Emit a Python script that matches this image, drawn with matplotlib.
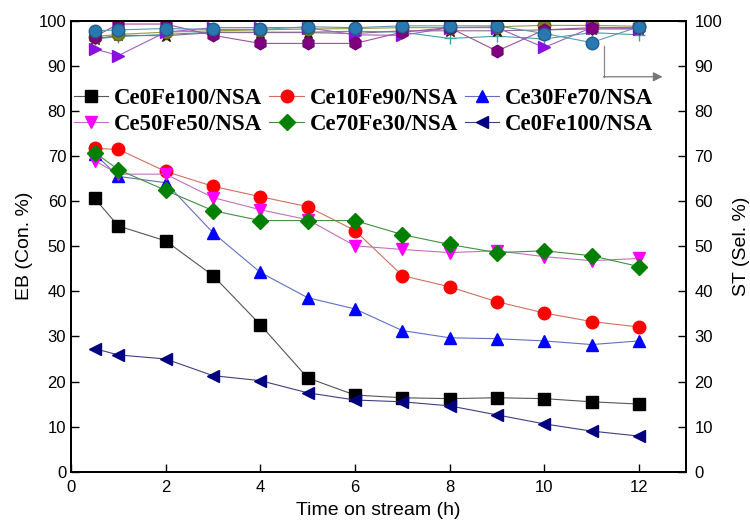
import matplotlib
matplotlib.use("Agg")
import matplotlib.pyplot as plt

# ---------------- data ----------------
time_h = [0.5, 1, 2, 3, 4, 5, 6, 7, 8, 9, 10, 11, 12]

labels = ["Ce0Fe100/NSA", "Ce10Fe90/NSA", "Ce30Fe70/NSA",
          "Ce50Fe50/NSA", "Ce70Fe30/NSA", "Ce0Fe100/NSA"]

eb_ce0 = [60.6, 54.5, 51.2, 43.5, 32.6, 20.8, 17.0, 16.4, 16.2, 16.4, 16.2, 15.5, 15.0]
eb_ce10 = [71.7, 71.5, 66.6, 63.3, 61.0, 58.8, 53.5, 43.5, 41.0, 37.7, 35.2, 33.3, 32.1]
eb_ce30 = [70.5, 65.5, 64.1, 53.0, 44.2, 38.6, 36.1, 31.3, 29.7, 29.5, 29.0, 28.2, 29.0]
eb_ce50 = [69.0, 66.0, 66.0, 60.8, 58.1, 55.9, 50.1, 49.3, 48.6, 49.0, 47.7, 46.8, 47.3]
eb_ce70 = [70.8, 67.0, 62.4, 57.9, 55.7, 55.7, 55.7, 52.6, 50.4, 48.6, 49.0, 47.9, 45.5]
eb_ce0b = [27.3, 25.9, 25.0, 21.3, 20.2, 17.5, 15.9, 15.5, 14.6, 12.6, 10.6, 9.0, 7.9]

st_blue = [97.8, 98.0, 98.3, 98.1, 98.1, 98.7, 98.5, 98.9, 98.9, 98.9, 97.2, 95.2, 98.7]
st_hex = [96.5, 99.3, 99.3, 96.8, 95.0, 95.0, 95.0, 97.5, 98.5, 93.3, 98.0, 98.5, 98.5]
st_tri = [93.8, 92.3, 97.5, 98.5, 98.5, 98.5, 96.9, 96.8, 98.5, 98.5, 94.1, 98.5, 98.3]
st_star = [96.0, 96.8, 96.7, 97.4, 97.4, 97.4, 97.2, 97.8, 97.8, 97.8, 98.0, 98.2, 98.2]
st_olive = [96.5, 97.0, 97.5, 97.8, 98.0, 98.2, 98.3, 98.5, 98.5, 98.7, 99.0, 99.0, 98.8]
st_plus = [96.0, 96.5, 97.0, 97.5, 97.5, 97.5, 97.7, 97.5, 96.1, 96.6, 96.0, 97.4, 96.9]

x_ticks = [0, 2, 4, 6, 8, 10, 12]
y_ticks = [0, 10, 20, 30, 40, 50, 60, 70, 80, 90, 100]

# ---------------- figure ----------------
fig = plt.figure(figsize=(7.5, 5.22), dpi=100)
ax = fig.add_axes([0.0947, 0.0964, 0.8203, 0.8636])
ax2 = ax.twinx()

# ST (selectivity) series on right axis
ax2.plot(time_h, st_plus, color="#3aa6a6", lw=0.8, marker="+", ms=8, mew=1.0, zorder=2)
ax2.plot(time_h, st_star, color="#8a6a8a", lw=0.8, marker="*", ms=9,
         mfc="#5a1f1f", mec="#3a1010", zorder=2)
ax2.plot(time_h, st_olive, color="#9a9a40", lw=0.8, marker="o", ms=9,
         mfc="#7d7d1a", mec="#6a6a10", zorder=2)
ax2.plot(time_h, st_tri, color="#a060c0", lw=0.8, marker=">", ms=9,
         mfc="#8a10e0", mec="#8a10e0", zorder=2)
ax2.plot(time_h, st_hex, color="#a050a0", lw=0.8, marker="h", ms=9,
         mfc="#800080", mec="#700070", zorder=2)
ax2.plot(time_h, st_blue, color="#5a9ab0", lw=0.8, marker="o", ms=9,
         mfc="#2a78b0", mec="#1f5f90", zorder=3)

# arrow pointing to the right axis
ax2.plot([11.27, 11.27], [94.4, 87.6], color="#888888", lw=0.9)
ax2.annotate("", xy=(12.5, 87.6), xytext=(11.25, 87.6),
             arrowprops=dict(arrowstyle="-|>", color="#777777", lw=0.9,
                             mutation_scale=14, shrinkA=0, shrinkB=0))

# EB (conversion) series on left axis
specs = [
    (eb_ce0, "black", "s", "#555555"),
    (eb_ce10, "red", "o", "#d07060"),
    (eb_ce30, "blue", "^", "#6070c0"),
    (eb_ce50, "magenta", "v", "#c070c0"),
    (eb_ce70, "green", "D", "#409040"),
    (eb_ce0b, "navy", "<", "#404080"),
]
handles = []
for vals, col, mk, lc in specs:
    (h,) = ax.plot(time_h, vals, color=lc, lw=0.8, marker=mk, ms=9 if mk != "D" else 8,
                   mfc=col, mec=col, zorder=4)
    handles.append(h)

ax.set_zorder(ax2.get_zorder() + 1)
ax.patch.set_visible(False)

# axes settings
for a in (ax, ax2):
    a.set_xlim(0, 13)
    a.set_ylim(0, 100)
    a.set_yticks(y_ticks)
    a.tick_params(direction="in", length=6, width=1, labelsize=12)
    for s in a.spines.values():
        s.set_linewidth(1.3)
ax.set_xticks(x_ticks)
ax.tick_params(axis="x", top=False, pad=6)
ax.tick_params(axis="y", right=False)
ax2.tick_params(axis="y", right=True, left=False, pad=6)

ax.set_xlabel("Time on stream (h)", fontsize=14, family="Liberation Sans", labelpad=5)
ax.set_ylabel("EB (Con. %)", fontsize=14, family="Liberation Sans", labelpad=4)
ax2.set_ylabel("ST (Sel. %)", fontsize=14, family="Liberation Sans", labelpad=8)
for lab in ax.get_xticklabels() + ax.get_yticklabels() + ax2.get_yticklabels():
    lab.set_family("Liberation Sans")

# legend filled row-wise (matplotlib fills columns first, so reorder)
order = [0, 3, 1, 4, 2, 5]
leg = ax.legend([handles[i] for i in order], [labels[i] for i in order],
                ncol=3, loc="upper left",
                bbox_to_anchor=(0.005, 0.852), frameon=False,
                prop=dict(family="Liberation Serif", weight="bold", size=16.5),
                handlelength=1.5, handletextpad=0.25, columnspacing=0.3,
                labelspacing=0.25, borderaxespad=0.0, borderpad=0.0)

fig.savefig("out.png", dpi=100)
